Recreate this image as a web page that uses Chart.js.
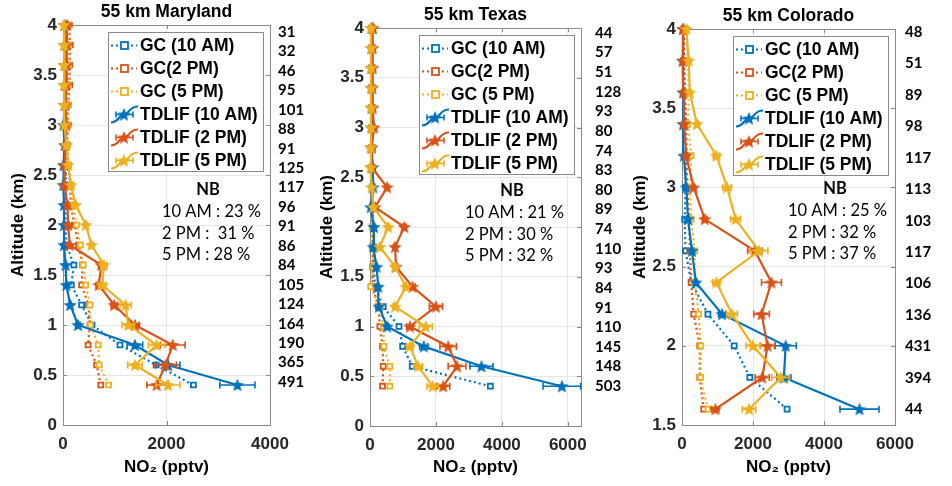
<!DOCTYPE html>
<html>
<head>
<meta charset="utf-8">
<script src="https://cdn.jsdelivr.net/npm/chart.js@4.4.1/dist/chart.umd.min.js"></script>
<style>
  body { margin: 0; background: #fff; }
  #wrap { position: relative; width: 952px; height: 486px; overflow: hidden; }
  .panel { position: absolute; top: 0; height: 486px; }
</style>
</head>
<body>
<div id="wrap">
  <div class="panel" style="left:0px;width:310px"><canvas id="md"></canvas></div>
  <div class="panel" style="left:308px;width:322px"><canvas id="tx"></canvas></div>
  <div class="panel" style="left:622px;width:330px"><canvas id="co"></canvas></div>
</div>
<script>
// Series names and colours (MATLAB defaults)
const seriesLabels = ['GC (10 AM)', 'GC(2 PM)', 'GC (5 PM)', 'TDLIF (10 AM)', 'TDLIF (2 PM)', 'TDLIF (5 PM)'];
const colors = ['#0072BD', '#D95319', '#EDB120'];

// Maryland, altitude levels bottom -> top (km), NO2 in pptv
const mdAlt = [0.4, 0.6, 0.8, 1.0, 1.2, 1.4, 1.6, 1.8, 2.0, 2.2, 2.4, 2.6, 2.8, 3.0, 3.2, 3.4, 3.6, 3.8, 4.0];
const mdGC10 = [2520, 1800, 1100, 560, 360, 160, 210, 70, 50, 50, 50, 60, 70, 70, 80, 80, 80, 80, 80];
const mdGC2 = [730, 650, 485, 520, 490, 360, 380, 300, 220, 150, 140, 100, 80, 100, 100, 130, 130, 140, 120];
const mdGC5 = [880, 700, 680, 530, 520, 440, 390, 335, 260, 200, 160, 100, 80, 90, 90, 110, 110, 110, 100];
const mdTD10 = [3370, 2030, 1390, 290, 140, 65, 50, 20, 20, 20, 5, 10, 30, 10, 30, 30, 30, 30, 30];
const mdTD2 = [1810, 1980, 2120, 1390, 990, 690, 740, 130, 100, 85, 30, 30, 50, 65, 50, 60, 70, 70, 80];
const mdTD5 = [2030, 1390, 1810, 1260, 1210, 760, 790, 550, 440, 245, 150, 100, 65, 30, 30, 20, 20, 20, 15];
const mdTD10err = [340, 230, 150, 40, 20, 10, 10, 10, 10, 10, 10, 10, 10, 10, 10, 10, 10, 10, 10];
const mdTD2err = [190, 210, 240, 80, 60, 50, 50, 20, 20, 20, 10, 10, 10, 10, 10, 10, 10, 10, 10];
const mdTD5err = [230, 140, 160, 120, 110, 70, 60, 40, 30, 20, 15, 10, 10, 10, 10, 10, 10, 10, 10];
const mdCounts = [491, 365, 190, 164, 124, 105, 84, 86, 91, 96, 117, 125, 91, 88, 101, 95, 46, 32, 31];
const mdNB = ['10 AM : 23 %', '2 PM :  31 %', '5 PM : 28 %'];
const mdXTicks = [0, 2000, 4000];

// Texas
const txAlt = [0.4, 0.6, 0.8, 1.0, 1.2, 1.4, 1.6, 1.8, 2.0, 2.2, 2.4, 2.6, 2.8, 3.0, 3.2, 3.4, 3.6, 3.8, 4.0];
const txGC10 = [3650, 1280, 990, 880, 400, 150, 120, 100, 90, 80, 70, 70, 60, 60, 60, 60, 60, 60, 60];
const txGC2 = [380, 400, 380, 300, 250, 80, 80, 80, 70, 70, 70, 60, 60, 60, 60, 60, 60, 60, 60];
const txGC5 = [600, 600, 420, 400, 300, 20, 100, 90, 80, 80, 80, 70, 70, 70, 70, 70, 70, 70, 70];
const txTD10 = [5820, 3380, 1630, 520, 270, 250, 200, 100, 120, 20, 100, 80, 50, 50, 50, 50, 50, 50, 50];
const txTD2 = [2220, 2640, 2370, 1210, 2000, 1290, 790, 760, 1040, 150, 520, 50, 50, 120, 80, 70, 80, 80, 90];
const txTD5 = [1900, 1460, 1210, 1690, 760, 1090, 760, 300, 550, 100, 50, 20, 20, 30, 30, 30, 30, 30, 30];
const txTD10err = [570, 350, 120, 50, 30, 30, 20, 20, 20, 10, 20, 20, 10, 10, 10, 10, 10, 10, 10];
const txTD2err = [200, 270, 250, 100, 200, 80, 50, 50, 60, 20, 40, 10, 10, 10, 10, 10, 10, 10, 10];
const txTD5err = [170, 130, 100, 200, 60, 80, 50, 30, 40, 20, 10, 10, 10, 10, 10, 10, 10, 10, 10];
const txCounts = [503, 148, 145, 110, 91, 84, 93, 110, 74, 89, 80, 83, 74, 80, 93, 128, 51, 57, 44];
const txNB = ['10 AM : 21 %', '2 PM : 30 %', '5 PM : 32 %'];
const txXTicks = [0, 2000, 4000, 6000];

// Colorado
const coAlt = [1.6, 1.8, 2.0, 2.2, 2.4, 2.6, 2.8, 3.0, 3.2, 3.4, 3.6, 3.8, 4.0];
const coGC10 = [2960, 1910, 1470, 730, 260, 100, 75, 100, 100, 90, 80, 50, 60];
const coGC2 = [610, 500, 500, 330, 260, 220, 200, 150, 130, 120, 75, 60, 50];
const coGC5 = [730, 520, 530, 470, 360, 360, 260, 230, 260, 170, 190, 170, 120];
const coTD10 = [5000, 2870, 2920, 1130, 390, 280, 170, 120, 50, 30, 30, 20, 30];
const coTD2 = [940, 2260, 2410, 2240, 2520, 2050, 640, 330, 120, 60, 50, 30, 30];
const coTD5 = [1890, 2780, 2000, 1410, 970, 2170, 1510, 1270, 970, 420, 220, 190, 120];
const coTD10err = [550, 200, 300, 100, 40, 40, 30, 20, 10, 10, 10, 10, 10];
const coTD2err = [100, 200, 200, 220, 280, 200, 60, 30, 20, 10, 10, 10, 10];
const coTD5err = [190, 250, 200, 150, 100, 250, 140, 120, 90, 40, 20, 20, 20];
const coCounts = [44, 394, 431, 136, 106, 117, 103, 113, 117, 98, 89, 51, 48];
const coNB = ['10 AM : 25 %', '2 PM : 32 %', '5 PM : 37 %'];
const coXTicks = [0, 2000, 4000, 6000];

const tickColor = '#262626';
const frameColor = '#8a8a8a';
const gridColor = '#e6e6e6';
const axisFont = { family: "'Liberation Sans', Arial, sans-serif", size: 17, weight: 'bold' };

const panels = [
  { id: 'md', title: '55 km Maryland', alt: mdAlt, gc: [mdGC10, mdGC2, mdGC5], td: [mdTD10, mdTD2, mdTD5],
    err: [mdTD10err, mdTD2err, mdTD5err], counts: mdCounts, nb: mdNB, xTicks: mdXTicks,
    xMax: 4000, yMin: 0, cMin: -0.042, cMax: 4.072,
    top: 25, bottom: 61, left: 63, right: 40, yTitlePad: 8, countPad: 8,
    nbCx: 145, nbTop: 165, nbLeft: 99 },
  { id: 'tx', title: '55 km Texas', alt: txAlt, gc: [txGC10, txGC2, txGC5], td: [txTD10, txTD2, txTD5],
    err: [txTD10err, txTD2err, txTD5err], counts: txCounts, nb: txNB, xTicks: txXTicks,
    xMax: 6400, yMin: 0, cMin: -0.006, cMax: 4.05,
    top: 28, bottom: 60, left: 62, right: 49, yTitlePad: 9, countPad: 14,
    nbCx: 142, nbTop: 163, nbLeft: 95 },
  { id: 'co', title: '55 km Colorado', alt: coAlt, gc: [coGC10, coGC2, coGC5], td: [coTD10, coTD2, coTD5],
    err: [coTD10err, coTD2err, coTD5err], counts: coCounts, nb: coNB, xTicks: coXTicks,
    xMax: 6000, yMin: 1.5, cMin: 1.5, cMax: 4.02,
    top: 29, bottom: 61, left: 60, right: 57, yTitlePad: 8, countPad: 10,
    nbCx: 153, nbTop: 160, nbLeft: 106 },
];

// filled pentagram used as marker
function starImage(color, r) {
  const c = document.createElement('canvas');
  const s = Math.ceil(r * 2 + 2);
  c.width = s; c.height = s;
  const g = c.getContext('2d');
  g.translate(s / 2, s / 2 + 0.6);
  g.beginPath();
  for (let i = 0; i < 10; i++) {
    const rad = i % 2 ? r * 0.45 : r;
    const a = -Math.PI / 2 + i * Math.PI / 5;
    g.lineTo(rad * Math.cos(a), rad * Math.sin(a));
  }
  g.closePath();
  g.fillStyle = color;
  g.fill();
  return c;
}
const stars = colors.map(c => starImage(c, 7));

function buildDatasets(p) {
  const ds = [];
  p.gc.forEach((vals, i) => ds.push({
    label: seriesLabels[i], kind: 'gc',
    data: vals.map((v, k) => ({ x: v, y: p.alt[k] })),
    borderColor: colors[i], backgroundColor: '#fff', borderWidth: 2.2, borderDash: [2, 3],
    pointStyle: 'rect', pointRadius: 3.5, pointBorderWidth: 1.8,
    pointBorderColor: colors[i], pointBackgroundColor: '#fff',
    showLine: true, clip: false, order: 6 - i,
  }));
  p.td.forEach((vals, i) => ds.push({
    label: seriesLabels[i + 3], kind: 'td', err: p.err[i],
    data: vals.map((v, k) => ({ x: v, y: p.alt[k] })),
    borderColor: colors[i], backgroundColor: colors[i], borderWidth: 2.2,
    pointStyle: stars[i], pointRadius: 6,
    showLine: true, clip: false, order: 3 - i,
  }));
  return ds;
}

// box around the axes with inward tick marks, MATLAB style
const framePlugin = {
  id: 'frame',
  beforeDatasetsDraw(chart) {
    const { ctx, chartArea: a, scales } = chart;
    ctx.save();
    ctx.strokeStyle = frameColor;
    ctx.lineWidth = 1;
    ctx.strokeRect(a.left + 0.5, a.top + 0.5, a.right - a.left, a.bottom - a.top);
    ctx.beginPath();
    scales.x.ticks.forEach(t => {
      const px = Math.round(scales.x.getPixelForValue(t.value)) + 0.5;
      ctx.moveTo(px, a.bottom); ctx.lineTo(px, a.bottom - 4);
      ctx.moveTo(px, a.top); ctx.lineTo(px, a.top + 4);
    });
    scales.y.ticks.forEach(t => {
      const py = Math.round(scales.y.getPixelForValue(t.value)) + 0.5;
      ctx.moveTo(a.left, py); ctx.lineTo(a.left + 4, py);
      ctx.moveTo(a.right, py); ctx.lineTo(a.right - 4, py);
    });
    ctx.stroke();
    ctx.restore();
  }
};

// horizontal error bars for the TDLIF series
const errorBarPlugin = {
  id: 'errorBars',
  afterDatasetDraw(chart, args) {
    const ds = chart.data.datasets[args.index];
    if (ds.kind !== 'td') return;
    const { ctx, scales } = chart;
    ctx.save();
    ctx.strokeStyle = ds.borderColor;
    ctx.lineWidth = 1.6;
    ctx.beginPath();
    ds.data.forEach((pt, k) => {
      const e = ds.err[k];
      const y = scales.y.getPixelForValue(pt.y);
      const x1 = scales.x.getPixelForValue(pt.x - e);
      const x2 = scales.x.getPixelForValue(pt.x + e);
      ctx.moveTo(x1, y); ctx.lineTo(x2, y);
      ctx.moveTo(x1, y - 3.5); ctx.lineTo(x1, y + 3.5);
      ctx.moveTo(x2, y - 3.5); ctx.lineTo(x2, y + 3.5);
    });
    ctx.stroke();
    ctx.restore();
  }
};

function makeChart(p) {
  const textPlugin = {
    id: 'panelText',
    afterDraw(chart) {
      const { ctx, chartArea: a } = chart;
      ctx.save();
      // title
      ctx.fillStyle = '#000';
      ctx.font = "bold 17.5px 'Liberation Sans', Arial, sans-serif";
      ctx.textAlign = 'center';
      ctx.textBaseline = 'middle';
      ctx.fillText(p.title, (a.left + a.right) / 2, a.top - 12.5);

      // legend box
      const w = 155, h = 139;
      const x0 = a.right - 7 - w, y0 = a.top + 7;
      ctx.fillStyle = '#fff';
      ctx.fillRect(x0, y0, w, h);
      ctx.strokeStyle = frameColor;
      ctx.lineWidth = 1;
      ctx.strokeRect(Math.round(x0) + 0.5, Math.round(y0) + 0.5, w, h);
      chart.data.datasets.forEach((d, i) => {
        const y = y0 + 13.5 + i * 23;
        const sx = x0 + 3;
        ctx.strokeStyle = d.borderColor;
        ctx.lineWidth = 2.2;
        if (d.kind === 'gc') {
          ctx.setLineDash([2, 3]);
          ctx.beginPath(); ctx.moveTo(sx, y); ctx.lineTo(sx + 26, y); ctx.stroke();
          ctx.setLineDash([]);
          ctx.fillStyle = '#fff';
          ctx.lineWidth = 1.8;
          ctx.fillRect(sx + 10, y - 3.5, 7, 7);
          ctx.strokeRect(sx + 10, y - 3.5, 7, 7);
        } else {
          ctx.beginPath();
          ctx.moveTo(sx, y + 8);
          ctx.bezierCurveTo(sx + 8, y + 8, sx + 8, y, sx + 13, y);
          ctx.bezierCurveTo(sx + 18, y, sx + 18, y - 8, sx + 27, y - 8);
          ctx.stroke();
          ctx.lineWidth = 1.6;
          ctx.beginPath();
          ctx.moveTo(sx + 5, y); ctx.lineTo(sx + 22, y);
          ctx.moveTo(sx + 5, y - 3); ctx.lineTo(sx + 5, y + 3);
          ctx.moveTo(sx + 22, y - 3); ctx.lineTo(sx + 22, y + 3);
          ctx.stroke();
          const img = d.pointStyle;
          ctx.drawImage(img, sx + 13 - img.width / 2, y - img.height / 2);
        }
        ctx.fillStyle = '#000';
        ctx.font = "bold 17.5px 'Liberation Sans', Arial, sans-serif";
        ctx.textAlign = 'left';
        ctx.fillText(d.label, x0 + 32, y + 1);
      });

      // NB block
      ctx.fillStyle = '#000';
      ctx.font = "bold 16.5px Lato, sans-serif";
      ctx.textAlign = 'center';
      ctx.fillText('NB', a.left + p.nbCx, a.top + p.nbTop);
      ctx.font = "16.5px Lato, sans-serif";
      ctx.textAlign = 'left';
      p.nb.forEach((t, i) => ctx.fillText(t, a.left + p.nbLeft, a.top + p.nbTop + 22 + i * 21.5));
      ctx.restore();
    }
  };

  return new Chart(document.getElementById(p.id), {
    type: 'scatter',
    data: { datasets: buildDatasets(p) },
    options: {
      animation: false,
      responsive: true,
      maintainAspectRatio: false,
      layout: { padding: { top: p.top, left: 0, right: 0, bottom: 0 } },
      elements: { line: { tension: 0 } },
      plugins: { legend: { display: false }, title: { display: false }, tooltip: { enabled: false } },
      scales: {
        x: {
          type: 'linear', min: 0, max: p.xMax,
          grid: { color: gridColor, drawTicks: false },
          border: { display: false },
          afterBuildTicks: s => { s.ticks = p.xTicks.map(v => ({ value: v })); },
          ticks: { autoSkip: false, maxRotation: 0, padding: 9, color: tickColor, font: axisFont, callback: v => String(v) },
          title: { display: true, text: 'NO₂ (pptv)', color: '#000', font: axisFont, padding: { top: 0, bottom: 8 } },
          afterFit: s => { s.height = p.bottom; },
        },
        y: {
          type: 'linear', position: 'left', min: p.yMin, max: 4,
          grid: { color: gridColor, drawTicks: false },
          border: { display: false },
          ticks: { stepSize: 0.5, padding: 6, color: tickColor, font: axisFont, callback: v => String(v) },
          title: { display: true, text: 'Altitude (km)', color: '#000', font: axisFont, padding: { top: p.yTitlePad, bottom: 0 } },
          afterFit: s => { s.width = p.left; },
        },
        yc: {
          type: 'linear', position: 'right', min: p.cMin, max: p.cMax,
          grid: { display: false, drawTicks: false },
          border: { display: false },
          afterBuildTicks: s => { s.ticks = p.alt.map(v => ({ value: v })); },
          ticks: { autoSkip: false, padding: p.countPad, color: '#000',
                   font: { family: 'Lato, sans-serif', size: 15, weight: 'bold' },
                   callback: (v, i) => p.counts[i] },
          afterFit: s => { s.width = p.right; },
        },
      },
    },
    plugins: [framePlugin, errorBarPlugin, textPlugin],
  });
}

panels.forEach(makeChart);
</script>
</body>
</html>
